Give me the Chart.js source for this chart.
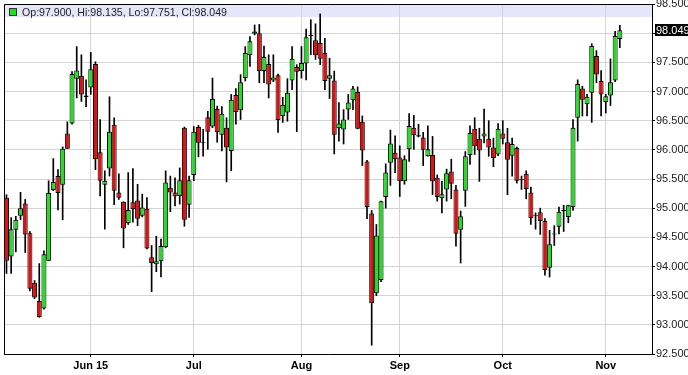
<!DOCTYPE html>
<html>
<head>
<meta charset="utf-8">
<script src="https://cdn.jsdelivr.net/npm/chart.js"></script>
<style>
html,body{margin:0;padding:0;background:#fff;overflow:hidden}
#wrap{width:688px;height:375px;position:relative}
</style>
</head>
<body>
<div id="wrap"><canvas id="c" width="688" height="375"></canvas></div>
<script>
// Daily candles, 6 May 2015 .. 5 Nov 2015 (one entry per trading session)
const opens = [95.18,94.17,94.63,94.87,95.08,94.57,93.72,93.41,93.28,94.10,
95.31,95.55,95.40,96.28,96.45,97.22,97.27,96.93,97.07,97.47,
95.96,95.40,95.68,96.43,95.27,95.11,94.74,95.10,95.13,94.87,
94.99,94.16,94.04,94.09,94.33,95.35,95.27,95.21,96.38,95.06,
95.57,96.39,96.13,96.56,96.40,96.70,96.26,96.38,95.98,96.94,
96.68,97.23,97.62,97.99,98.00,97.35,97.47,97.19,97.28,96.58,
96.64,97.19,97.42,97.35,97.48,97.97,97.88,97.83,97.66,97.22,
97.19,96.37,96.35,96.69,96.85,96.99,96.48,95.80,94.91,93.54,
93.77,95.19,95.78,95.95,95.87,95.46,96.01,96.38,96.25,96.21,
95.89,95.91,95.52,95.17,95.32,95.63,95.32,94.63,95.30,95.91,
96.36,96.19,96.23,96.19,96.04,95.92,96.28,96.13,95.90,96.03,
95.49,95.59,95.27,94.86,94.93,94.78,93.98,94.55,94.68,94.95,
94.85,95.02,96.55,97.05,96.78,96.98,97.61,97.18,96.82,96.93,
97.19,97.900];

const highs = [95.23,94.84,94.86,95.27,95.15,94.60,93.76,94.05,94.27,95.47,
95.85,95.66,96.05,96.48,97.34,97.77,97.63,97.20,97.67,97.51,
96.52,95.64,96.91,96.55,95.59,95.11,95.61,95.68,95.41,95.24,
95.18,94.36,94.52,94.47,95.64,95.55,95.52,95.69,96.39,95.55,
96.40,96.42,96.35,96.66,97.23,96.75,96.74,96.55,96.95,97.05,
97.29,97.77,97.94,98.14,98.15,97.78,97.63,97.63,97.30,96.90,
97.22,97.77,97.46,97.77,98.07,98.23,98.16,98.33,97.91,97.57,
97.35,96.81,96.69,96.95,97.09,97.08,96.58,95.82,94.96,94.72,
95.12,95.76,96.34,96.24,96.07,95.90,96.62,96.59,96.44,96.30,
96.41,96.23,95.57,95.46,95.67,95.84,95.39,94.95,95.97,96.41,
96.55,96.37,96.70,96.50,96.20,96.45,96.50,96.37,96.20,96.05,
95.55,95.64,95.36,94.92,95.00,94.82,94.62,94.70,95.02,95.05,
95.05,96.52,97.20,97.09,96.95,97.82,97.70,97.36,96.95,97.56,
98.03,98.135];

const lows = [93.88,93.88,94.25,94.80,94.24,93.58,93.45,93.13,93.27,94.10,
95.30,94.97,94.80,96.02,96.44,96.89,96.83,96.74,96.95,95.66,
95.21,94.64,95.55,95.06,95.15,94.32,94.72,94.76,94.70,94.85,
94.30,93.57,93.91,93.82,94.32,94.94,95.04,95.07,94.69,94.84,
95.47,95.88,95.89,96.01,96.38,96.13,95.98,95.45,95.64,96.44,
96.52,97.18,97.43,97.97,97.15,97.15,96.89,97.17,96.30,96.47,
96.49,97.03,96.31,97.23,97.20,97.63,97.55,97.46,97.03,96.88,
95.93,96.15,96.10,96.52,96.69,96.36,95.73,94.82,92.65,93.50,
93.74,95.00,95.39,95.61,95.20,95.41,95.80,96.01,96.22,95.73,
95.89,95.23,95.12,94.92,95.12,95.16,94.35,94.06,95.03,95.75,
95.92,95.46,96.12,95.89,95.71,95.90,96.10,95.23,95.55,95.43,
95.32,95.16,94.72,94.64,94.55,93.85,93.82,94.36,94.56,94.60,
94.75,94.96,96.15,96.58,96.58,96.47,97.15,96.58,96.63,96.76,
97.17,97.751];

const closes = [94.10,94.64,94.80,95.00,94.55,93.62,93.47,93.13,94.21,95.26,
95.45,95.26,96.02,96.02,97.30,97.36,96.95,96.90,97.38,95.84,
95.47,95.47,96.31,95.30,95.18,94.65,94.97,94.98,94.82,95.01,
94.31,94.06,94.09,94.35,95.44,95.27,95.20,95.48,94.80,95.48,
96.31,96.12,96.12,96.31,96.87,96.30,96.62,96.04,96.86,96.65,
97.16,97.66,97.86,98.03,97.35,97.59,97.12,97.24,96.51,96.77,
96.98,97.56,97.34,97.49,97.93,97.95,97.62,97.56,97.18,97.28,
96.26,96.45,96.52,96.81,97.05,96.36,95.99,95.02,93.37,94.53,
95.12,95.61,96.11,95.84,95.46,95.84,96.41,96.25,96.23,96.00,
96.01,95.46,95.19,95.24,95.60,95.42,94.56,94.86,95.89,96.29,
96.06,95.99,96.28,96.04,95.86,96.36,96.19,95.83,96.10,95.47,
95.48,95.33,94.83,94.86,94.78,93.94,94.38,94.55,94.94,94.95,
95.05,96.38,97.13,96.86,96.91,97.78,97.29,96.95,96.92,97.16,
97.95,98.049];

// first session of each month (index into the arrays above) and its label
const monthTickIdx = [18, 40, 63, 84, 106, 128];
const monthLabels = ['Jun 15', 'Jul', 'Aug', 'Sep', 'Oct', 'Nov'];

const yMin = 92.5, yMax = 98.5, yStep = 0.5;

const UP = '#22dd22', DOWN = '#dd1111';
const FONT = "Arial, 'Liberation Sans', sans-serif";
const n = closes.length;

const bodyData = closes.map((c, i) => ({x: i, y: [opens[i], c]}));
const wickData = closes.map((c, i) => ({x: i, y: [lows[i], highs[i]]}));

const framePlugin = {
  id: 'frame',
  beforeDraw(chart) {
    const {ctx, chartArea: a} = chart;
    ctx.save();
    ctx.fillStyle = '#fff';
    ctx.fillRect(0, 0, chart.width, chart.height);
    ctx.fillStyle = '#e6e6fa';
    ctx.fillRect(a.left, a.top, a.right - a.left, 13);
    ctx.restore();
  },
  afterDatasetsDraw(chart) {
    const {ctx, chartArea: a} = chart;
    ctx.save();
    ctx.strokeStyle = '#000';
    ctx.lineWidth = 1;
    ctx.beginPath();
    ctx.moveTo(a.left + 0.5, a.bottom);
    ctx.lineTo(a.left + 0.5, a.top + 0.5);
    ctx.lineTo(a.right, a.top + 0.5);
    ctx.stroke();
    const last = n - 1;
    ctx.fillStyle = closes[last] >= opens[last] ? UP : DOWN;
    ctx.fillRect(9.5, 8.5, 7, 7);
    ctx.strokeStyle = '#333';
    ctx.strokeRect(9.5, 8.5, 7, 7);
    ctx.fillStyle = '#222';
    ctx.font = '10.6px ' + FONT;
    ctx.textBaseline = 'alphabetic';
    ctx.textAlign = 'left';
    const txt = 'Op:' + opens[last].toFixed(3) + ', Hi:' + highs[last].toFixed(3) +
      ', Lo:' + lows[last].toFixed(3) + ', Cl:' + closes[last].toFixed(3);
    ctx.fillText(txt, 22, 15.5);
    ctx.restore();
  },
  afterDraw(chart) {
    const {ctx} = chart;
    const ys = chart.scales.y;
    const last = n - 1;
    const py = ys.getPixelForValue(closes[last]);
    ctx.save();
    ctx.fillStyle = '#000';
    ctx.fillRect(655, Math.round(py) - 6, 33, 12);
    ctx.fillStyle = '#fff';
    ctx.font = '11px ' + FONT;
    ctx.textBaseline = 'middle';
    ctx.textAlign = 'left';
    ctx.fillText(closes[last].toFixed(3), 656, Math.round(py) + 0.5);
    ctx.restore();
  }
};

new Chart(document.getElementById('c'), {
  type: 'bar',
  data: {
    datasets: [
      {
        label: 'body', data: bodyData, grouped: false, order: 0,
        backgroundColor: (c) => closes[c.dataIndex] >= opens[c.dataIndex] ? UP : DOWN,
        borderColor: '#000', borderWidth: 1, borderSkipped: false,
        barPercentage: 1.5, categoryPercentage: 1, maxBarThickness: 5, minBarLength: 1
      },
      {
        label: 'wick', data: wickData, grouped: false, order: 1,
        backgroundColor: '#000', borderWidth: 0,
        barPercentage: 1, categoryPercentage: 1, maxBarThickness: 1
      }
    ]
  },
  options: {
    responsive: false,
    animation: false,
    devicePixelRatio: 1,
    layout: {padding: {left: 4, top: 4, right: 0, bottom: 0}},
    plugins: {legend: {display: false}, tooltip: {enabled: false}},
    scales: {
      x: {
        type: 'linear', min: -0.53, max: 137.87, offset: false,
        grid: {offset: false, color: '#d4d4d4', tickColor: '#000', tickLength: 3, lineWidth: 1},
        border: {color: '#000', width: 1},
        afterBuildTicks: (s) => { s.ticks = monthTickIdx.map(v => ({value: v})); },
        ticks: {
          callback: (v, i) => monthLabels[i],
          font: {family: FONT, size: 11, weight: 'bold'}, color: '#000',
          padding: 2, maxRotation: 0, autoSkip: false
        },
        afterFit: (s) => { s.height = 21; s.paddingLeft = 0; s.paddingRight = 0; }
      },
      y: {
        position: 'right', min: yMin, max: yMax,
        grid: {color: '#d4d4d4', tickColor: '#000', tickLength: 3, lineWidth: 1},
        border: {color: '#000', width: 1},
        ticks: {
          stepSize: yStep, autoSkip: false,
          callback: (v) => Number(v).toFixed(3),
          font: {family: FONT, size: 11}, color: '#222', padding: 1
        },
        afterFit: (s) => { s.width = 36; s.paddingTop = 0; s.paddingBottom = 0; }
      }
    }
  },
  plugins: [framePlugin]
});
</script>
</body>
</html>
